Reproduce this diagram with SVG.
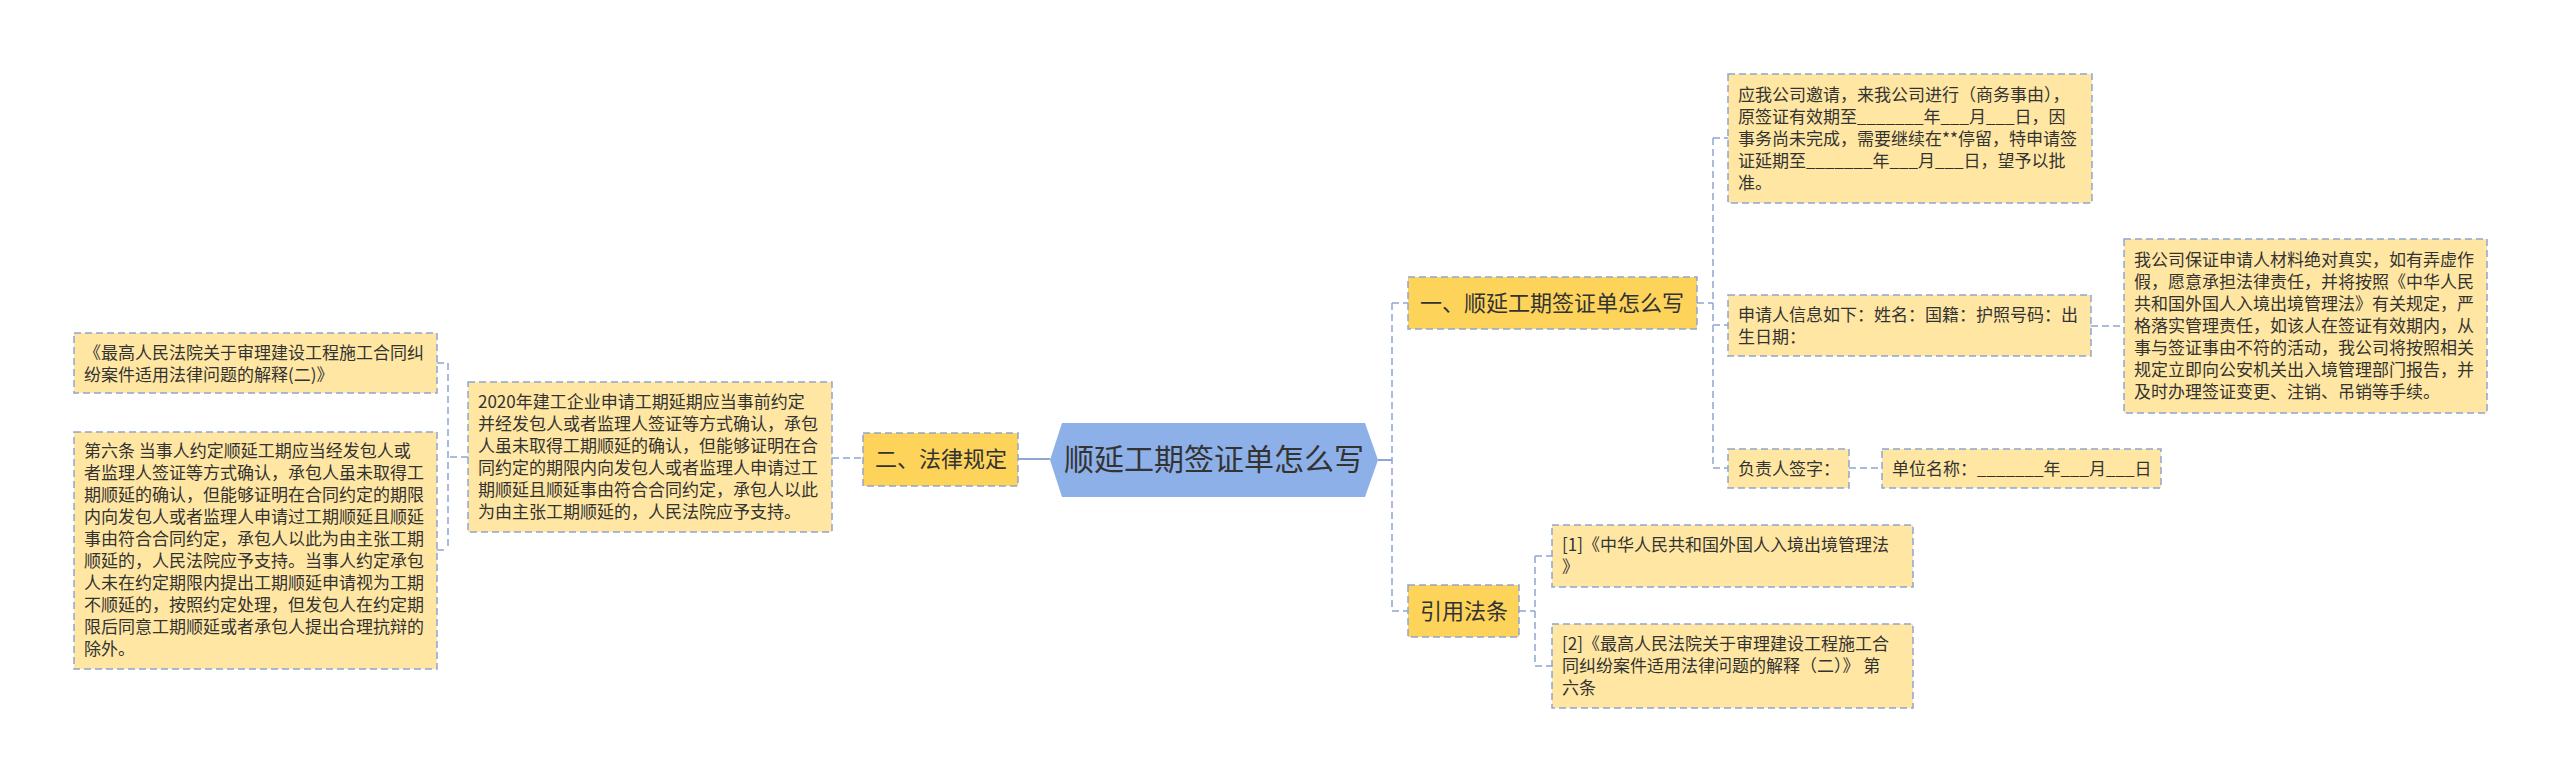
<svg xmlns="http://www.w3.org/2000/svg" width="2560" height="782" viewBox="0 0 2560 782">
<style>
.leaf{fill:#FFE7A3;stroke:#8EA6D2;stroke-width:1.5;stroke-dasharray:7 4}
.l1{fill:#FDD35A;stroke:#8EA6D2;stroke-width:1.5;stroke-dasharray:7 4}
.t{font-family:"Microsoft YaHei","Noto Sans CJK SC",sans-serif;font-size:17px;fill:#333}
.t1{font-family:"Microsoft YaHei","Noto Sans CJK SC",sans-serif;font-size:22px;fill:#333}
.t0{font-family:"Microsoft YaHei","Noto Sans CJK SC",sans-serif;font-size:30px;fill:#333}
.c{fill:none;stroke:#8EA6D2;stroke-width:1.5;stroke-dasharray:7 4}
.cs{fill:none;stroke:#8EA6D2;stroke-width:2}
</style>
<rect width="2560" height="782" fill="#fff"/>
<g id="connectors">
<path class="cs" d="M1018 459H1050"/>
<path class="cs" d="M1378 460H1392"/>
<path class="c" d="M832 458H863"/>
<path class="c" d="M468 457H448M448 363V550M437 363H448M437 550H448"/>
<path class="c" d="M1392 303V611M1392 303H1408M1392 611H1408"/>
<path class="c" d="M1697 303H1713M1713 138V468M1713 138H1728M1713 325H1728M1713 468H1728"/>
<path class="c" d="M2091 326H2124"/>
<path class="c" d="M1849 468H1882"/>
<path class="c" d="M1519 611H1535M1535 556V666M1535 556H1552M1535 666H1552"/>
</g>
<g id="root">
<polygon points="1050,460 1062,423 1365,423 1378,460 1365,497 1062,497" fill="#8DB0E8"/>
<text class="t0" x="1214" y="470" text-anchor="middle">顺延工期签证单怎么写</text>
</g>
<g id="n-law">
<rect class="l1" x="863" y="433" width="155" height="53"/>
<text class="t1" x="875" y="467">二、法律规定</text>
</g>
<g id="n-law-detail">
<rect class="leaf" x="468" y="382" width="364" height="150"/>
<text class="t" x="478"><tspan x="478" y="408">2020年建工企业申请工期延期应当事前约定</tspan><tspan x="478" y="430">并经发包人或者监理人签证等方式确认，承包</tspan><tspan x="478" y="452">人虽未取得工期顺延的确认，但能够证明在合</tspan><tspan x="478" y="474">同约定的期限内向发包人或者监理人申请过工</tspan><tspan x="478" y="496">期顺延且顺延事由符合合同约定，承包人以此</tspan><tspan x="478" y="518">为由主张工期顺延的，人民法院应予支持。</tspan></text>
</g>
<g id="n-law-a">
<rect class="leaf" x="74" y="333" width="363" height="60"/>
<text class="t"><tspan x="84" y="359">《最高人民法院关于审理建设工程施工合同纠</tspan><tspan x="84" y="381">纷案件适用法律问题的解释(二)》</tspan></text>
</g>
<g id="n-law-b">
<rect class="leaf" x="74" y="432" width="363" height="237"/>
<text class="t"><tspan x="84" y="457">第六条 当事人约定顺延工期应当经发包人或</tspan><tspan x="84" y="479">者监理人签证等方式确认，承包人虽未取得工</tspan><tspan x="84" y="501">期顺延的确认，但能够证明在合同约定的期限</tspan><tspan x="84" y="523">内向发包人或者监理人申请过工期顺延且顺延</tspan><tspan x="84" y="545">事由符合合同约定，承包人以此为由主张工期</tspan><tspan x="84" y="567">顺延的，人民法院应予支持。当事人约定承包</tspan><tspan x="84" y="589">人未在约定期限内提出工期顺延申请视为工期</tspan><tspan x="84" y="611">不顺延的，按照约定处理，但发包人在约定期</tspan><tspan x="84" y="633">限后同意工期顺延或者承包人提出合理抗辩的</tspan><tspan x="84" y="655">除外。</tspan></text>
</g>
<g id="n-how">
<rect class="l1" x="1408" y="277" width="289" height="52"/>
<text class="t1" x="1420" y="311">一、顺延工期签证单怎么写</text>
</g>
<g id="n-how-a">
<rect class="leaf" x="1728" y="74" width="364" height="129"/>
<text class="t"><tspan x="1738" y="101">应我公司邀请，来我公司进行（商务事由），</tspan><tspan x="1738" y="123">原签证有效期至_______年___月___日，因</tspan><tspan x="1738" y="145">事务尚未完成，需要继续在**停留，特申请签</tspan><tspan x="1738" y="167">证延期至_______年___月___日，望予以批</tspan><tspan x="1738" y="189">准。</tspan></text>
</g>
<g id="n-how-b">
<rect class="leaf" x="1728" y="295" width="363" height="61"/>
<text class="t"><tspan x="1738" y="321">申请人信息如下：姓名：国籍：护照号码：出</tspan><tspan x="1738" y="343">生日期：</tspan></text>
</g>
<g id="n-how-b1">
<rect class="leaf" x="2124" y="239" width="363" height="174"/>
<text class="t"><tspan x="2134" y="266">我公司保证申请人材料绝对真实，如有弄虚作</tspan><tspan x="2134" y="288">假，愿意承担法律责任，并将按照《中华人民</tspan><tspan x="2134" y="310">共和国外国人入境出境管理法》有关规定，严</tspan><tspan x="2134" y="332">格落实管理责任，如该人在签证有效期内，从</tspan><tspan x="2134" y="354">事与签证事由不符的活动，我公司将按照相关</tspan><tspan x="2134" y="376">规定立即向公安机关出入境管理部门报告，并</tspan><tspan x="2134" y="398">及时办理签证变更、注销、吊销等手续。</tspan></text>
</g>
<g id="n-how-c">
<rect class="leaf" x="1728" y="449" width="121" height="39"/>
<text class="t" x="1738" y="475">负责人签字：</text>
</g>
<g id="n-how-c1">
<rect class="leaf" x="1882" y="449" width="279" height="39"/>
<text class="t" x="1892" y="475">单位名称：_______年___月___日</text>
</g>
<g id="n-ref">
<rect class="l1" x="1408" y="585" width="111" height="52"/>
<text class="t1" x="1420" y="619">引用法条</text>
</g>
<g id="n-ref-1">
<rect class="leaf" x="1552" y="525" width="361" height="62"/>
<text class="t"><tspan x="1562" y="551">[1]《中华人民共和国外国人入境出境管理法</tspan><tspan x="1562" y="573">》</tspan></text>
</g>
<g id="n-ref-2">
<rect class="leaf" x="1552" y="624" width="361" height="84"/>
<text class="t"><tspan x="1562" y="650">[2]《最高人民法院关于审理建设工程施工合</tspan><tspan x="1562" y="672">同纠纷案件适用法律问题的解释（二）》 第</tspan><tspan x="1562" y="694">六条</tspan></text>
</g>
</svg>
